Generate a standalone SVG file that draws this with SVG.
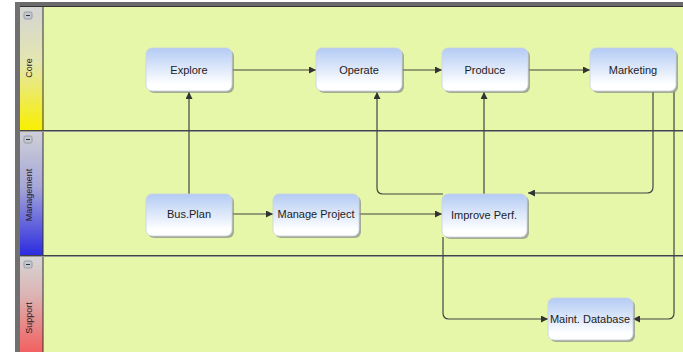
<svg xmlns="http://www.w3.org/2000/svg" width="683" height="352" viewBox="0 0 683 352">
<defs>
<linearGradient id="nodeG" x1="0" y1="0" x2="0" y2="1">
<stop offset="0" stop-color="#b3cbf4"/>
<stop offset="0.85" stop-color="#ffffff"/>
</linearGradient>
<linearGradient id="coreG" x1="0" y1="0" x2="0" y2="1">
<stop offset="0" stop-color="#d4d4d4"/>
<stop offset="0.45" stop-color="#e4e6b0"/>
<stop offset="1" stop-color="#f8f000"/>
</linearGradient>
<linearGradient id="mgmtG" x1="0" y1="0" x2="0" y2="1">
<stop offset="0" stop-color="#d0d0d8"/>
<stop offset="0.45" stop-color="#a6a6d8"/>
<stop offset="1" stop-color="#2c2ce0"/>
</linearGradient>
<linearGradient id="supG" x1="0" y1="0" x2="0" y2="1">
<stop offset="0" stop-color="#d6d6d6"/>
<stop offset="0.4" stop-color="#dcb4b4"/>
<stop offset="1" stop-color="#f26060"/>
</linearGradient>
<marker id="arr" viewBox="0 0 10 10" refX="10" refY="5" markerWidth="7" markerHeight="7" markerUnits="userSpaceOnUse" orient="auto">
<path d="M0,0 L10,5 L0,10 z" fill="#333"/>
</marker>
</defs>
<style>
.node rect.box{fill:url(#nodeG);stroke:#c8d2e0;stroke-width:0.8}
.node rect.sh{fill:#8a8a8a;opacity:0.7}
.node text{font-family:"Liberation Sans",Arial,sans-serif;font-size:11px;fill:#222;text-anchor:middle;dominant-baseline:central}
.lane-t{font-family:"Liberation Sans",Arial,sans-serif;font-size:9px;fill:#222;text-anchor:middle;dominant-baseline:central}
.btn{fill:#c4c8d0;stroke:#8a8e98;stroke-width:0.8}
.conn path{fill:none;stroke:#444;stroke-width:1.2}
</style>
<rect x="0" y="0" width="683" height="352" fill="#ffffff"/>
<!-- frame -->
<rect x="15" y="2" width="668" height="4" fill="#6a6a6a"/>
<rect x="15" y="2" width="5" height="350" fill="#707070"/>
<rect x="20" y="6" width="663" height="346" fill="#e7f7aa"/>
<!-- lane headers -->
<g id="lane-core">
<rect x="20" y="6" width="23" height="124" fill="url(#coreG)"/>
<rect class="btn" x="24" y="12" width="8" height="7" rx="1.5"/>
<line x1="26" y1="15.5" x2="30" y2="15.5" stroke="#333" stroke-width="1"/>
<text class="lane-t" transform="translate(29,68) rotate(-90)">Core</text>
</g>
<g id="lane-management">
<rect x="20" y="131" width="23" height="124" fill="url(#mgmtG)"/>
<rect class="btn" x="24" y="136" width="8" height="7" rx="1.5"/>
<line x1="26" y1="139.5" x2="30" y2="139.5" stroke="#333" stroke-width="1"/>
<text class="lane-t" transform="translate(29,195) rotate(-90)">Management</text>
</g>
<g id="lane-support">
<rect x="20" y="256" width="23" height="96" fill="url(#supG)"/>
<rect class="btn" x="24" y="261" width="8" height="7" rx="1.5"/>
<line x1="26" y1="264.5" x2="30" y2="264.5" stroke="#333" stroke-width="1"/>
<text class="lane-t" transform="translate(29,318) rotate(-90)">Support</text>
</g>
<line x1="43" y1="6" x2="43" y2="352" stroke="#333" stroke-width="1"/>
<line x1="20" y1="6.5" x2="683" y2="6.5" stroke="#333" stroke-width="1"/>
<line x1="20" y1="130.5" x2="683" y2="130.5" stroke="#444" stroke-width="1"/>
<line x1="20" y1="131.5" x2="683" y2="131.5" stroke="#9a9a9a" stroke-width="1"/>
<line x1="20" y1="255.5" x2="683" y2="255.5" stroke="#444" stroke-width="1"/>
<line x1="20" y1="256.5" x2="683" y2="256.5" stroke="#9a9a9a" stroke-width="1"/>
<!-- connectors -->
<g id="connectors" class="conn">
<path d="M232,70 H316" marker-end="url(#arr)"/>
<path d="M402,70 H442" marker-end="url(#arr)"/>
<path d="M528,70 H590" marker-end="url(#arr)"/>
<path d="M189,194 V92" marker-end="url(#arr)"/>
<path d="M232,214 H273" marker-end="url(#arr)"/>
<path d="M358,214 H442" marker-end="url(#arr)"/>
<path d="M443,194 H383 Q377,194 377,188 V92" marker-end="url(#arr)"/>
<path d="M484,194 V92" marker-end="url(#arr)"/>
<path d="M653,92 V187 Q653,193 647,193 H528" marker-end="url(#arr)"/>
<path d="M674,92 V313 Q674,319 668,319 H633" marker-end="url(#arr)"/>
<path d="M443,237 V313 Q443,319 449,319 H548" marker-end="url(#arr)"/>
</g>
<!-- nodes -->
<g id="explore" class="node"><rect class="sh" x="148" y="50" width="86" height="43" rx="6"/><rect class="box" x="146" y="48" width="86" height="43" rx="6"/><text x="189" y="70">Explore</text></g>
<g id="operate" class="node"><rect class="sh" x="318" y="50" width="86" height="43" rx="6"/><rect class="box" x="316" y="48" width="86" height="43" rx="6"/><text x="359" y="70">Operate</text></g>
<g id="produce" class="node"><rect class="sh" x="444" y="50" width="86" height="43" rx="6"/><rect class="box" x="442" y="48" width="86" height="43" rx="6"/><text x="485" y="70">Produce</text></g>
<g id="marketing" class="node"><rect class="sh" x="592" y="50" width="86" height="43" rx="6"/><rect class="box" x="590" y="48" width="86" height="43" rx="6"/><text x="633" y="70">Marketing</text></g>
<g id="busplan" class="node"><rect class="sh" x="148" y="196" width="86" height="42" rx="6"/><rect class="box" x="146" y="194" width="86" height="42" rx="6"/><text x="189" y="214">Bus.Plan</text></g>
<g id="manageproject" class="node"><rect class="sh" x="275" y="196" width="86" height="42" rx="6"/><rect class="box" x="273" y="194" width="86" height="42" rx="6"/><text x="316" y="214">Manage Project</text></g>
<g id="improveperf" class="node"><rect class="sh" x="444" y="196" width="85" height="43" rx="6"/><rect class="box" x="442" y="194" width="85" height="43" rx="6"/><text x="484" y="215">Improve Perf.</text></g>
<g id="maintdatabase" class="node"><rect class="sh" x="550" y="300" width="85" height="42" rx="6"/><rect class="box" x="548" y="298" width="85" height="42" rx="6"/><text x="590" y="319">Maint. Database</text></g>
</svg>
